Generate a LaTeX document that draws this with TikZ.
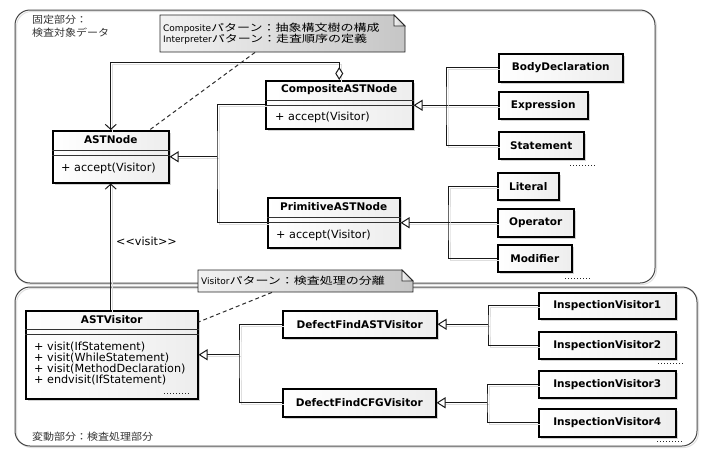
\documentclass[tikz,border=0pt]{standalone}
\usepackage{fontspec}
\setmainfont{DejaVu Sans}
\newfontfamily\clsf{DejaVu Sans}
\newfontfamily\jpf[FakeStretch=1.3]{Noto Sans CJK JP}
\newfontfamily\jplbl[FakeStretch=1.1]{Noto Sans CJK JP}
\usetikzlibrary{arrows.meta,shadows,calc}
\newcommand\clsnamefont{\clsf\bfseries\fontsize{10.5}{12}\selectfont}
\newcommand\opsfont{\clsf\fontsize{11.2}{11.3}\selectfont}
\newcommand\notelat{\fontsize{9}{14}\selectfont}
\newcommand\notejp{\jpf\fontsize{10}{14}\selectfont}
\begin{document}
\begin{tikzpicture}[x=1pt,y=-1pt,
  container/.style={draw=gray!55!black, line width=1pt, rounded corners=15pt,
    preaction={draw=black!12, line width=1pt, transform canvas={shift={(1.5pt,-1.5pt)}}}},
  cls/.style={draw=black, line width=1.5pt, inner sep=0pt, left color=white, right color=gray!14,
    drop shadow={shadow xshift=2.5pt, shadow yshift=-2.5pt, opacity=0.35, fill=gray}},
  sbox/.style={cls, anchor=north west, font=\clsnamefont},
  clsn/.style={font=\clsnamefont, inner sep=0pt},
  opst/.style={font=\opsfont, inner sep=0pt, align=left},
  sep/.style={draw=black!80, line width=0.9pt},
  conn/.style={draw=gray!20!black, line width=1pt,
    preaction={draw=black!13, line width=1pt, -, transform canvas={shift={(2pt,-2pt)}}}},
  inh/.style={conn, -{Triangle[open, length=9pt, width=11pt, fill=white]}},
  nav/.style={conn, -{Straight Barb[length=5pt, width=11pt]}},
  agg/.style={conn, {Diamond[open, length=13pt, width=8pt, fill=white]}-{Straight Barb[length=5pt, width=11pt]}},
  notelink/.style={draw=gray!35!black, line width=1pt, dash pattern=on 4pt off 3pt},
  notefill/.style={draw=gray!30!black, line width=0.8pt, left color=gray!10, right color=gray!45},
  notetxt/.style={anchor=north west, inner xsep=3pt, inner ysep=0pt, align=left},
  lbl/.style={font=\jplbl\fontsize{10}{12}\selectfont, text=black!80, inner sep=0pt},
  dots/.style={draw=gray!30!black, line width=1pt, dotted}
]
\useasboundingbox (0,0) rectangle (707,448);

% containers
\draw[container] (15,10) rectangle (655,283);
\draw[container] (15,287) rectangle (697,446);
\node[lbl, anchor=west] (lblfix1) at (32,20) {固定部分：};
\node[lbl, anchor=west] (lblfix2) at (32,33) {検査対象データ};
\node[lbl, anchor=west] (lblvar) at (32,437) {変動部分：検査処理部分};

% ASTNode
\node[cls, minimum width=116pt, minimum height=52pt, anchor=north west] (astnode) at (52,130) {};
\draw[sep] (astnode.west |- 0,150) -- (astnode.east |- 0,150);
\draw[sep] (astnode.west |- 0,155) -- (astnode.east |- 0,155);
\node[clsn] (astnodeN) at (astnode.north |- 0,140) {ASTNode};
\node[opst, anchor=west, xshift=9pt] (astnodeO) at (astnode.west |- 0,168.5) {+ accept(Visitor)};

% CompositeASTNode
\node[cls, minimum width=147pt, minimum height=48pt, anchor=north west] (comp) at (265,80) {};
\draw[sep] (comp.west |- 0,100) -- (comp.east |- 0,100);
\draw[sep] (comp.west |- 0,105) -- (comp.east |- 0,105);
\node[clsn] (compN) at (comp.north |- 0,90) {CompositeASTNode};
\node[opst, anchor=west, xshift=10pt] (compO) at (comp.west |- 0,117) {+ accept(Visitor)};

% PrimitiveASTNode
\node[cls, minimum width=132pt, minimum height=50pt, anchor=north west] (prim) at (267,197) {};
\draw[sep] (prim.west |- 0,217) -- (prim.east |- 0,217);
\draw[sep] (prim.west |- 0,222) -- (prim.east |- 0,222);
\node[clsn] (primN) at (prim.north |- 0,207) {PrimitiveASTNode};
\node[opst, anchor=west, xshift=9pt] (primO) at (prim.west |- 0,235) {+ accept(Visitor)};

% ASTVisitor
\node[cls, minimum width=172pt, minimum height=88pt, anchor=north west] (astvis) at (25,310) {};
\draw[sep] (astvis.west |- 0,329) -- (astvis.east |- 0,329);
\draw[sep] (astvis.west |- 0,334) -- (astvis.east |- 0,334);
\node[clsn] (astvisN) at (astvis.north |- 0,320) {ASTVisitor};
\node[opst, anchor=west, xshift=9pt] (astvisO) at (astvis.west |- 0,363.5) {+ visit(IfStatement)\\+ visit(WhileStatement)\\+ visit(MethodDeclaration)\\+ endvisit(IfStatement)};

% simple classes
\node[sbox, minimum width=124pt, minimum height=28pt] (body) at (498,53) {BodyDeclaration};
\node[sbox, minimum width=89pt, minimum height=27pt] (expr) at (498,91) {Expression};
\node[sbox, minimum width=85pt, minimum height=27pt] (stmt) at (498,131) {Statement};
\node[sbox, minimum width=61pt, minimum height=27pt] (lit) at (497,172) {Literal};
\node[sbox, minimum width=76pt, minimum height=28pt] (oper) at (497,208) {Operator};
\node[sbox, minimum width=74pt, minimum height=27pt] (modi) at (497,244) {Modifier};
\node[sbox, minimum width=154pt, minimum height=27pt] (dfast) at (282,310) {DefectFindASTVisitor};
\node[sbox, minimum width=153pt, minimum height=28pt] (dfcfg) at (282,388) {DefectFindCFGVisitor};
\node[sbox, minimum width=137pt, minimum height=26pt] (iv1) at (538,292) {InspectionVisitor1};
\node[sbox, minimum width=137pt, minimum height=27pt] (iv2) at (538,331) {InspectionVisitor2};
\node[sbox, minimum width=137pt, minimum height=27pt] (iv3) at (538,370) {InspectionVisitor3};
\node[sbox, minimum width=137pt, minimum height=28pt] (iv4) at (538,408) {InspectionVisitor4};

% dots
\draw[dots] (570,165) -- (595,165);
\draw[dots] (565,278) -- (590,278);
\draw[dots] (164,393) -- (189,393);
\draw[dots] (658,363) -- (683,363);
\draw[dots] (657,441) -- (682,441);

% generalization trees
\coordinate (j1) at (expr.west -| 446,0);
\draw[inh] (expr.west) -- (comp.east |- expr.west);
\draw[conn] (body.west) -| (j1) |- (stmt.west);
\coordinate (j2) at (oper.west -| 448,0);
\draw[inh] (oper.west) -- (prim.east |- oper.west);
\draw[conn] (lit.west) -| (j2) |- (modi.west);
\coordinate (j3) at (astnode.east -| 217,0);
\draw[inh] (j3) -- (astnode.east);
\draw[conn] (comp.west) -| (j3) |- (prim.west);
\coordinate (j5) at (astvis.east -| 239,0);
\draw[inh] (j5) -- (astvis.east);
\draw[conn] (dfast.west) -| (j5) |- (dfcfg.west);
\coordinate (j6) at (dfast.east -| 488,0);
\draw[inh] (j6) -- (dfast.east);
\draw[conn] (iv1.west) -| (j6) |- (iv2.west);
\coordinate (j7) at (dfcfg.east -| 487,0);
\draw[inh] (j7) -- (dfcfg.east);
\draw[conn] (iv3.west) -| (j7) |- (iv4.west);

% aggregation and visit
\draw[agg] (comp.north) -- ++(0,-18) -| (astnode.north);
\draw[nav] (astvis.north -| astnode.south) -- (astnode.south);
\node[font=\opsfont, anchor=west, inner sep=0pt] (visitlbl) at (116,241) {<{}<visit>{}>};

% note 1
\path[notefill] (160,15) -- (394,15) -- (405,26) -- (405,52) -- (160,52) -- cycle;
\draw[notefill, fill=white] (394,15) -- (394,26) -- (405,26) -- cycle;
\node[notetxt, text width=239pt, minimum height=37pt] (note1) at (160,15)
  {{\notelat Composite}{\notejp パターン：抽象構文樹の構成}\\[-1pt]{\notelat Interpreter}{\notejp パターン：走査順序の定義}};
% note 2
\path[notefill] (198,270) -- (402,270) -- (413,281) -- (413,292) -- (198,292) -- cycle;
\draw[notefill, fill=white] (402,270) -- (402,281) -- (413,281) -- cycle;
\node[notetxt, text width=209pt, minimum height=22pt] (note2) at (198,270)
  {{\notelat Visitor}{\notejp パターン：検査処理の分離}};

\draw[notelink] (note1.south -| 255,0) -- ([xshift=-20pt]astnode.north east);
\draw[notelink] (note2.south -| 272,0) -- (astvis.east |- 0,322);
\end{tikzpicture}
\end{document}
